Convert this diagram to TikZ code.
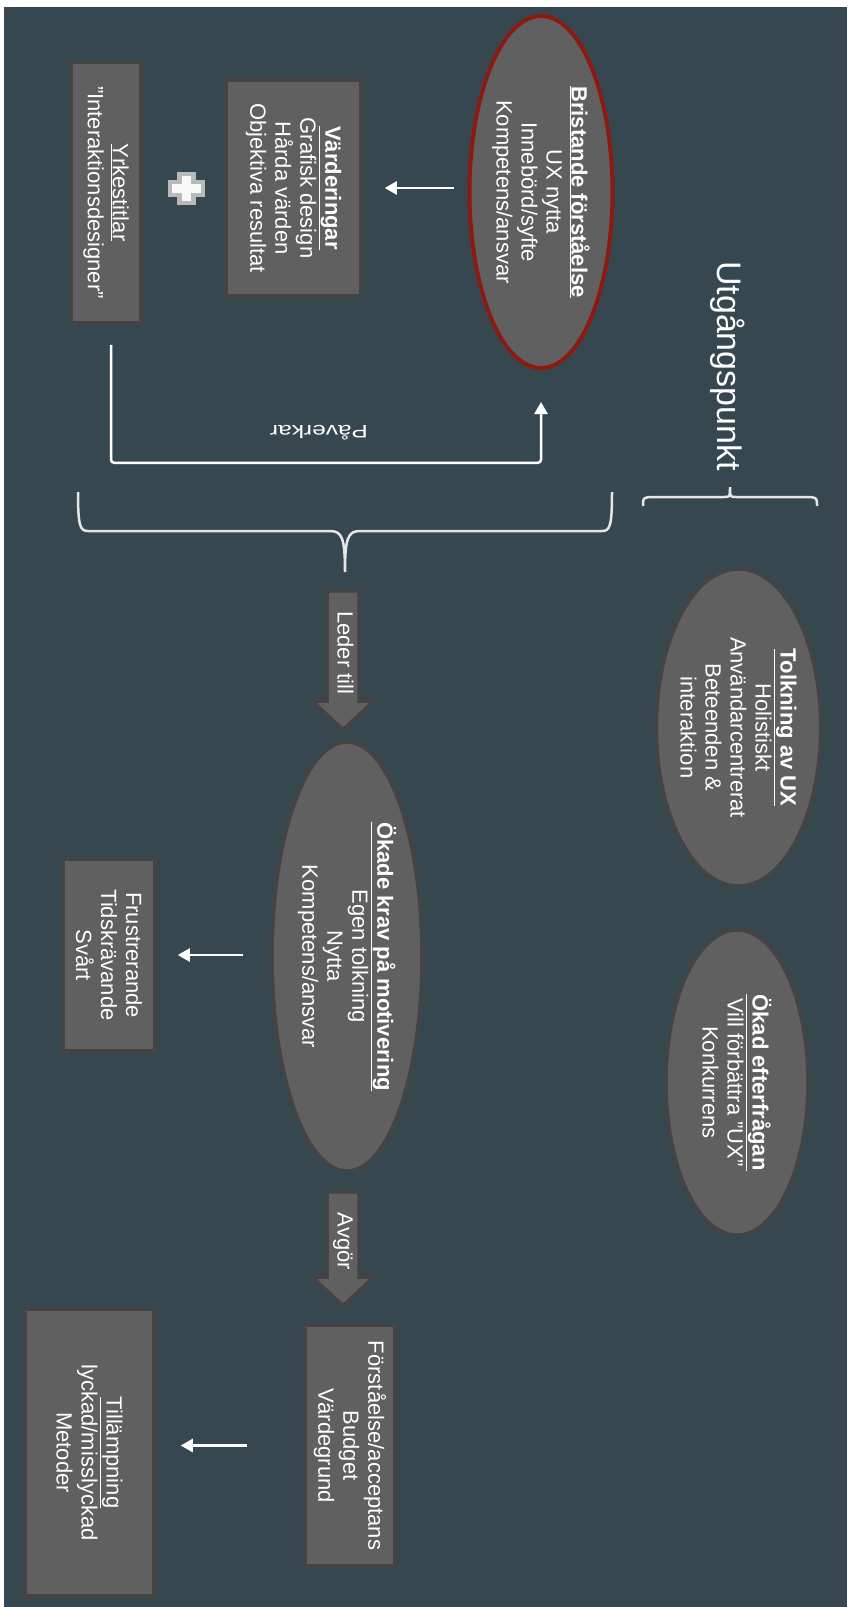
\documentclass[tikz,border=0pt]{standalone}
\usepackage{fontspec}
\setmainfont{Liberation Sans}
\usetikzlibrary{shapes.geometric, shapes.arrows, arrows.meta}
\definecolor{slate}{HTML}{37474F}
\definecolor{boxfill}{HTML}{606060}
\definecolor{boxline}{HTML}{444444}
\definecolor{redline}{HTML}{8B1A12}
\definecolor{braceline}{HTML}{E6E6E6}
\newcommand{\nodefont}{\fontsize{22}{25}\selectfont}

\begin{document}
\begin{tikzpicture}[x=1pt, y=-1pt,
    box/.style={draw=boxline, fill=boxfill, line width=3.5pt, rotate=-90, align=center, text=white, font=\nodefont, inner sep=2pt},
    oval/.style={box, ellipse, inner sep=0pt},
    blockarrow/.style={single arrow, draw=boxline, fill=boxfill, line width=3.5pt, rotate=-90, anchor=tail, text=white, font=\nodefont, text height=14pt, text depth=3pt, inner xsep=4pt, inner ysep=5.75pt, single arrow head extend=14.75pt, single arrow tip angle=94},
    conn/.style={draw=white, line width=2.5pt, -{Triangle[length=12pt, width=13pt]}},
    brace/.style={draw=braceline, line width=2.5pt}]
    % Background of the slide
    \useasboundingbox (0,0) rectangle (847,1607);
    \fill[white] (0,0) rectangle (847,1607);
    \fill[slate] (4,7) rectangle (847,1607);

    % Heading and its brace
    \node[rotate=-90, text=white, font=\fontsize{34}{40}\selectfont] (utg) at (728,366) {Utgångspunkt};
    \draw[brace] (643,506) .. controls (643,498) .. (650,497) -- (724,497) .. controls (730,497) .. (730,487) .. controls (730,497) .. (736,497) -- (810,497) .. controls (817,498) .. (817,506);

    % Starting point
    \node[oval, draw=redline, line width=4pt, minimum width=352pt, minimum height=143pt] (bri) at (541,192) {\underline{\textbf{Bristande förståelse}}\\UX nytta\\Innebörd/syfte\\Kompetens/ansvar};
    \node[box, minimum width=216pt, minimum height=135pt] (vard) at (293.5,188) {\underline{\textbf{Värderingar}}\\Grafisk design\\Hårda värden\\Objektiva resultat};
    \node[box, minimum width=261pt, minimum height=70pt] (yrk) at (106,192.5) {\underline{Yrkestitlar}\\”Interaktionsdesigner”};
    \draw[conn, shorten <=14pt, shorten >=22pt] (bri.south |- vard.center) -- (vard.north);

    % Plus sign
    \fill[gray!55] (177,172) rectangle (196,205);
    \fill[gray!55] (168,180) rectangle (205,197);
    \fill[white!95!gray] (182,176) rectangle (191,201);
    \fill[white!95!gray] (172,184) rectangle (201,193);

    % Påverkar
    \draw[conn, rounded corners=3pt] ([xshift=5pt, yshift=-20pt]yrk.east) -- ++(0,118) -| ([yshift=-32pt]bri.east);
    \node[rotate=180, xscale=1.36, text=white, font=\fontsize{18}{20}\selectfont] (pav) at (319,433) {Påverkar};

    % Brace under the group
    \draw[brace] (78,492) .. controls (78,526) and (80,531) .. (88,531) -- (330,531) .. controls (342,531) and (345,538) .. (345,572) .. controls (345,538) and (348,531) .. (360,531) -- (602,531) .. controls (610,531) and (612,526) .. (612,492);

    % Leder till
    \node[blockarrow, minimum height=139pt] (led) at (343,589) {Leder till};

    % Right column
    \node[oval, minimum width=317pt, minimum height=139pt] (tol) at (738.5,727.5) {\underline{\textbf{Tolkning av UX}}\\Holistiskt\\Användarcentrerat\\Beteenden \&\\interaktion};
    \node[oval, minimum width=305pt, minimum height=142pt] (eft) at (737,1082.5) {\underline{\textbf{Ökad efterfrågan}}\\Vill förbättra ”UX”\\Konkurrens};

    % Motivation
    \node[oval, minimum width=429pt, minimum height=150pt] (okk) at (347,956.5) {\underline{\textbf{Ökade krav på motivering}}\\Egen tolkning\\Nytta\\Kompetens/ansvar};
    \node[box, minimum width=192pt, minimum height=92pt] (fru) at (109,955) {Frustrerande\\Tidskrävande\\Svårt};
    \draw[conn, shorten <=27pt, shorten >=21pt] (okk.south |- fru.center) -- (fru.north);

    % Avgör
    \node[blockarrow, minimum height=114pt] (avg) at (343,1190) {Avgör};

    % Outcome
    \node[box, minimum width=241pt, minimum height=90pt] (forst) at (350,1445.5) {Förståelse/acceptans\\Budget\\Värdegrund};
    \node[box, minimum width=287pt, minimum height=129pt] (till) at (89.5,1452.5) {\underline{Tillämpning}\\lyckad/misslyckad\\Metoder};
    \draw[conn, shorten <=56pt, shorten >=25pt] (forst.south) -- (till.north |- forst.south);
\end{tikzpicture}
\end{document}
